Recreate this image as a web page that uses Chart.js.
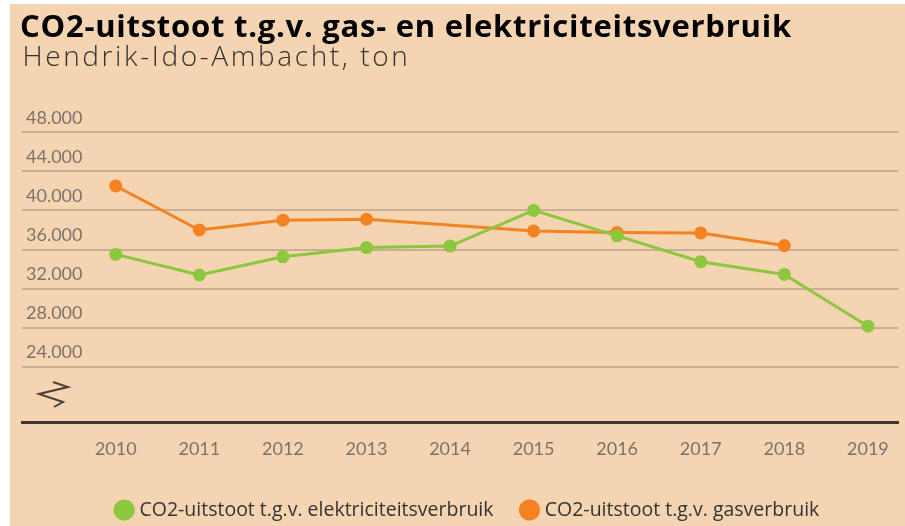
<!DOCTYPE html>
<html lang="nl">
<head>
<meta charset="utf-8">
<title>CO2-uitstoot Hendrik-Ido-Ambacht</title>
<script src="https://cdn.jsdelivr.net/npm/chart.js@4.4.1/dist/chart.umd.min.js"></script>
<style>
  html, body { margin: 0; padding: 0; background: #fff; overflow: hidden; }
  .chart-box {
    position: absolute;
    left: 10px;
    top: 4px;
    width: 895px;
    height: 530px;
    background: #f5d4b2;
    font-family: "Open Sans", sans-serif;
  }
  .chart-box canvas { position: absolute; left: 0; top: 0; }
  .chart-title {
    position: absolute;
    left: 10px;
    top: 6.2px;
    margin: 0;
    font-size: 31px;
    line-height: 31px;
    font-weight: 700;
    letter-spacing: 0.75px;
    color: #000;
    white-space: nowrap;
  }
  .chart-subtitle {
    position: absolute;
    left: 12.5px;
    top: 36.8px;
    margin: 0;
    font-size: 28px;
    line-height: 28px;
    font-weight: 300;
    letter-spacing: 2.6px;
    color: #333;
    white-space: nowrap;
  }
</style>
</head>
<body>
<div class="chart-box">
  <canvas id="co2Chart"></canvas>
  <h1 class="chart-title">CO2-uitstoot t.g.v. gas- en elektriciteitsverbruik</h1>
  <div class="chart-subtitle">Hendrik-Ido-Ambacht, ton</div>
</div>
<script>
// Jaren en uitstoot (ton CO2)
const years = [2010, 2011, 2012, 2013, 2014, 2015, 2016, 2017, 2018, 2019];
const elektriciteit = [35500, 33400, 35250, 36200, 36350, 40000, 37400, 34750, 33450, 28150];
const gas = [42500, 38000, 39000, 39100, null, 37900, 37750, 37700, 36400, null];
const yTicks = [24000, 28000, 32000, 36000, 40000, 44000, 48000];

const GREEN = '#8dc63f';
const ORANGE = '#f58220';

function toPoints(values) {
  return years.map((yr, i) => ({ x: yr, y: values[i] }));
}

// zigzag marking the broken y-axis
const axisBreak = {
  id: 'axisBreak',
  afterDraw(chart) {
    const { ctx, chartArea } = chart;
    const l = chartArea.left;
    const b = chartArea.bottom;
    ctx.save();
    ctx.strokeStyle = '#4a4038';
    ctx.lineWidth = 2;
    ctx.beginPath();
    ctx.moveTo(l + 31, b - 40);
    ctx.lineTo(l + 46, b - 35);
    ctx.lineTo(l + 17, b - 28);
    ctx.lineTo(l + 41, b - 20);
    ctx.lineTo(l + 32, b - 15);
    ctx.stroke();
    ctx.restore();
  },
};

// nudge the legend a little to the right of the canvas centre
const legendShift = {
  id: 'legendShift',
  afterLayout(chart) {
    if (chart.legend) {
      chart.legend.left += 6;
      chart.legend.right += 6;
    }
  },
};

Chart.defaults.font.family = '"Open Sans", Lato, sans-serif';

new Chart(document.getElementById('co2Chart'), {
  type: 'line',
  data: {
    datasets: [
      {
        label: 'CO2-uitstoot t.g.v. elektriciteitsverbruik',
        data: toPoints(elektriciteit),
        borderColor: GREEN,
        backgroundColor: GREEN,
        borderWidth: 3,
        pointRadius: 6.5,
        pointBorderWidth: 0,
        pointBackgroundColor: GREEN,
        tension: 0,
      },
      {
        label: 'CO2-uitstoot t.g.v. gasverbruik',
        data: toPoints(gas),
        borderColor: ORANGE,
        backgroundColor: ORANGE,
        borderWidth: 3,
        pointRadius: 6.5,
        pointBorderWidth: 0,
        pointBackgroundColor: ORANGE,
        tension: 0,
        spanGaps: true,
      },
    ],
  },
  options: {
    responsive: true,
    maintainAspectRatio: false,
    animation: false,
    layout: {
      padding: { left: 11, right: 0, top: 128.3, bottom: 4.25 },
    },
    plugins: {
      legend: {
        position: 'bottom',
        labels: {
          usePointStyle: true,
          boxWidth: 11,
          boxHeight: 15,
          padding: 30.5,
          color: '#333',
          font: { size: 19.5 },
        },
      },
      tooltip: { enabled: false },
    },
    scales: {
      x: {
        type: 'linear',
        min: 2008.878,
        max: 2019.365,
        afterBuildTicks: (scale) => {
          scale.ticks = years.map((v) => ({ value: v }));
        },
        afterFit: (scale) => {
          scale.height = 47.75;
        },
        grid: { display: false, drawTicks: false },
        border: { display: true, color: '#3d352e', width: 3 },
        ticks: {
          padding: 16,
          color: '#7a736c',
          font: { size: 18, family: 'Lato, sans-serif' },
          maxRotation: 0,
          callback: (v) => String(v),
        },
      },
      y: {
        min: 18339,
        max: 48000,
        afterBuildTicks: (scale) => {
          scale.ticks = yTicks.map((v) => ({ value: v }));
        },
        afterFit: (scale) => {
          scale.width = 1;
        },
        grid: { color: '#c9ae93', lineWidth: 2, drawTicks: false },
        border: { display: false },
        ticks: {
          mirror: true,
          padding: 4,
          labelOffset: -14.5,
          color: '#7a736c',
          font: { size: 18, family: 'Lato, sans-serif' },
          callback: (v) => v.toLocaleString('nl-NL'),
        },
      },
    },
  },
  plugins: [axisBreak, legendShift],
});
</script>
</body>
</html>
